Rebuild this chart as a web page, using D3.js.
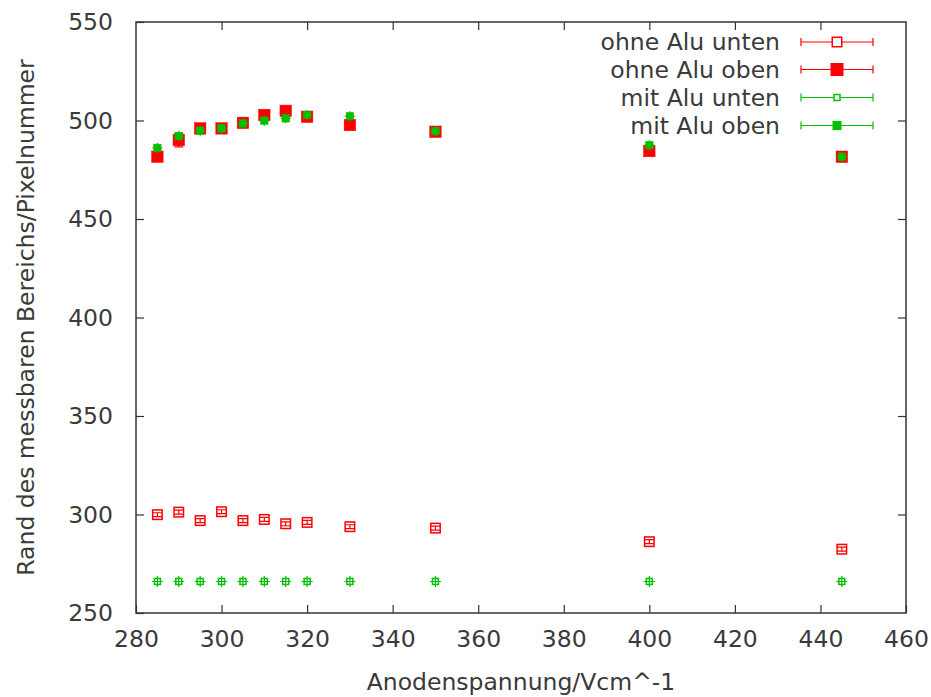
<!DOCTYPE html>
<html>
<head>
<meta charset="utf-8">
<script src="https://cdn.jsdelivr.net/npm/d3@7"></script>
<style>
  body { margin: 0; background: #fff; }
  text { font-family: "DejaVu Sans", sans-serif; fill: #3a3a3a; }
</style>
</head>
<body>
<svg id="chart"></svg>
<script>
// x values (Anodenspannung)
const voltages = [285, 290, 295, 300, 305, 310, 315, 320, 330, 350, 400, 445];

// series values
const ohneUnten = [299.9, 301.2, 296.9, 301.4, 296.9, 297.5, 295.3, 296.0, 293.8, 293.1, 286.2, 282.4];
const ohneUntenErr = [1, 1, 1, 1, 1, 1, 1, 1, 1, 1, 1, 1];
const ohneOben = [481.6, 490.1, 496.0, 496.0, 498.8, 502.8, 504.9, 501.9, 497.7, 494.3, 484.5, 481.6];
const ohneObenErr = [1, 3.5, 1, 1, 1, 1, 1, 1, 1, 1, 1, 1];
const mitUnten = [266, 266, 266, 266, 266, 266, 266, 266, 266, 266, 266, 266];
const mitOben = [486.1, 492.1, 494.8, 496.0, 498.5, 499.9, 501.1, 502.8, 502.2, 494.6, 487.5, 481.6];

const xTicks = [280, 300, 320, 340, 360, 380, 400, 420, 440, 460];
const yTicks = [250, 300, 350, 400, 450, 500, 550];

const seriesNames = ['ohne Alu unten', 'ohne Alu oben', 'mit Alu unten', 'mit Alu oben'];

const width = 931, height = 697;
const margin = { top: 22, right: 25, bottom: 84, left: 136 };
const fontSize = 23.5;

const svg = d3.select('#chart').attr('width', width).attr('height', height);

const x = d3.scaleLinear().domain([280, 460]).range([margin.left, width - margin.right]);
const y = d3.scaleLinear().domain([250, 550]).range([height - margin.bottom, margin.top]);

const red = '#ff0000';
const green = '#00c000';

// frame
svg.append('rect')
  .attr('x', x(280)).attr('y', y(550))
  .attr('width', x(460) - x(280)).attr('height', y(250) - y(550))
  .attr('fill', 'none').attr('stroke', '#333').attr('stroke-width', 1.5);

// axes with inward ticks, mirrored
const tickLen = 8;
const bottomAxis = d3.axisBottom(x).tickValues(xTicks).tickSize(-tickLen).tickPadding(17).tickFormat(d3.format('d'));
const topAxis = d3.axisTop(x).tickValues(xTicks.slice(1, -1)).tickSize(-tickLen).tickFormat('');
const leftAxis = d3.axisLeft(y).tickValues(yTicks).tickSize(-tickLen).tickPadding(23).tickFormat(d3.format('d'));
const rightAxis = d3.axisRight(y).tickValues(yTicks.slice(1, -1)).tickSize(-tickLen).tickFormat('');

function styleAxis(g) {
  g.select('.domain').remove();
  g.selectAll('line').attr('stroke', '#333').attr('stroke-width', 1.2);
  g.selectAll('text').attr('font-size', fontSize).attr('fill', '#3a3a3a')
    .style('font-family', '"DejaVu Sans", sans-serif');
}

svg.append('g').attr('transform', `translate(0,${y(250)})`).call(bottomAxis).call(styleAxis);
svg.append('g').attr('transform', `translate(0,${y(550)})`).call(topAxis).call(styleAxis);
svg.append('g').attr('transform', `translate(${x(280)},0)`).call(leftAxis).call(styleAxis);
svg.append('g').attr('transform', `translate(${x(460)},0)`).call(rightAxis).call(styleAxis);

// axis titles
svg.append('text')
  .attr('x', (x(280) + x(460)) / 2).attr('y', 690)
  .attr('text-anchor', 'middle').attr('font-size', fontSize)
  .text('Anodenspannung/Vcm^-1');

svg.append('text')
  .attr('transform', `translate(34,${(y(250) + y(550)) / 2}) rotate(-90)`)
  .attr('text-anchor', 'middle').attr('font-size', fontSize)
  .text('Rand des messbaren Bereichs/Pixelnummer');

// helpers
function errBars(g, vals, errs, color, cap) {
  g.selectAll(null).data(voltages).enter().append('path')
    .attr('d', (d, i) => {
      const cx = x(d), y1 = y(vals[i] - errs[i]), y2 = y(vals[i] + errs[i]);
      return `M${cx},${y1}V${y2}M${cx - cap},${y1}H${cx + cap}M${cx - cap},${y2}H${cx + cap}`;
    })
    .attr('stroke', color).attr('stroke-width', 1.2).attr('fill', 'none');
}

function squares(g, vals, size, color, filled) {
  g.selectAll(null).data(voltages).enter().append('rect')
    .attr('x', d => x(d) - size / 2)
    .attr('y', (d, i) => y(vals[i]) - size / 2)
    .attr('width', size).attr('height', size)
    .attr('fill', filled ? color : 'none')
    .attr('stroke', color).attr('stroke-width', filled ? 0.5 : 1.5);
}

function crosses(g, vals, len, color) {
  g.selectAll(null).data(voltages).enter().append('path')
    .attr('d', (d, i) => `M${x(d) - len},${y(vals[i])}H${x(d) + len}M${x(d)},${y(vals[i]) - len}V${y(vals[i]) + len}`)
    .attr('stroke', color).attr('stroke-width', 1.2);
}

const plot = svg.append('g');

// ohne Alu unten
const g1 = plot.append('g');
squares(g1, ohneUnten, 9.5, red, false);
errBars(g1, ohneUnten, ohneUntenErr, red, 4.5);

// ohne Alu oben
const g2 = plot.append('g');
errBars(g2, ohneOben, ohneObenErr, red, 4.5);
squares(g2, ohneOben, 11.5, red, true);

// mit Alu unten
const g3 = plot.append('g');
crosses(g3, mitUnten, 5.5, green);
squares(g3, mitUnten, 6, green, false);

// mit Alu oben
const g4 = plot.append('g');
crosses(g4, mitOben, 5, green);
squares(g4, mitOben, 7.5, green, true);

// legend
const legendY = [42, 69.5, 97.5, 125.5];
const legendMarks = [
  { color: red, size: 9.5, filled: false },
  { color: red, size: 11.5, filled: true },
  { color: green, size: 6, filled: false },
  { color: green, size: 7.5, filled: true }
];
const lx1 = 801, lx2 = 873, lxc = 837;

const legend = svg.append('g');
const rows = legend.selectAll('g').data(seriesNames).enter().append('g')
  .attr('transform', (d, i) => `translate(0,${legendY[i]})`);

rows.append('text')
  .attr('x', 780).attr('dy', '0.35em')
  .attr('text-anchor', 'end').attr('font-size', fontSize)
  .text(d => d);

rows.append('path')
  .attr('d', `M${lx1},0H${lx2}M${lx1},-4V4M${lx2},-4V4`)
  .attr('stroke', (d, i) => legendMarks[i].color).attr('stroke-width', 1.2);

rows.append('rect')
  .attr('x', (d, i) => lxc - legendMarks[i].size / 2)
  .attr('y', (d, i) => -legendMarks[i].size / 2)
  .attr('width', (d, i) => legendMarks[i].size)
  .attr('height', (d, i) => legendMarks[i].size)
  .attr('fill', (d, i) => legendMarks[i].filled ? legendMarks[i].color : '#fff')
  .attr('stroke', (d, i) => legendMarks[i].color).attr('stroke-width', 1.5);
</script>
</body>
</html>
